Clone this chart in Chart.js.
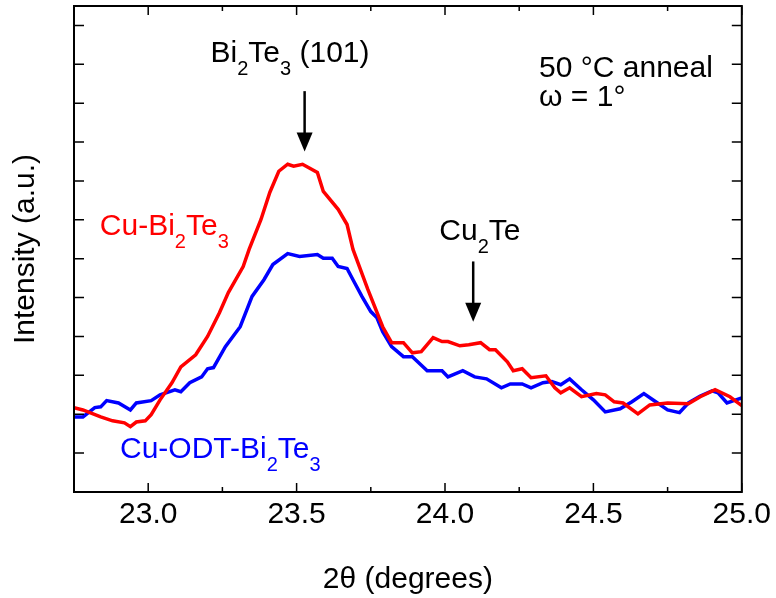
<!DOCTYPE html>
<html>
<head>
<meta charset="utf-8">
<script src="https://cdn.jsdelivr.net/npm/chart.js@4/dist/chart.umd.min.js"></script>
<style>
  html, body { margin: 0; padding: 0; background: #fff; }
  #wrap { width: 776px; height: 598px; }
</style>
</head>
<body>
<div id="wrap"><canvas id="xrd"></canvas></div>
<script>
// 2theta (deg) and intensity (a.u., in y-tick units)
var redX = [22.75, 22.78, 22.84, 22.88, 22.92, 22.94, 22.96, 22.99, 23.01, 23.04, 23.08, 23.11, 23.16, 23.20, 23.24, 23.27, 23.32, 23.34, 23.38, 23.41, 23.44, 23.47, 23.49, 23.52, 23.57, 23.59, 23.64, 23.67, 23.69, 23.74, 23.79, 23.82, 23.86, 23.89, 23.92, 23.96, 23.99, 24.01, 24.05, 24.08, 24.12, 24.15, 24.17, 24.21, 24.23, 24.26, 24.29, 24.34, 24.37, 24.39, 24.42, 24.46, 24.51, 24.54, 24.57, 24.60, 24.65, 24.69, 24.75, 24.82, 24.86, 24.91, 24.96, 25.0];
var redY = [2.17, 2.11, 1.93, 1.83, 1.78, 1.68, 1.80, 1.83, 1.99, 2.37, 2.81, 3.22, 3.53, 4.00, 4.61, 5.13, 5.80, 6.24, 7.01, 7.71, 8.25, 8.43, 8.38, 8.43, 8.22, 7.73, 7.27, 6.88, 6.24, 5.21, 4.25, 3.84, 3.84, 3.58, 3.61, 3.97, 3.87, 3.87, 3.76, 3.79, 3.84, 3.66, 3.66, 3.35, 3.12, 3.17, 2.94, 2.99, 2.68, 2.55, 2.68, 2.45, 2.53, 2.50, 2.32, 2.29, 2.01, 2.24, 2.29, 2.27, 2.45, 2.63, 2.45, 2.22];

var blueX = [22.75, 22.78, 22.82, 22.84, 22.86, 22.90, 22.94, 22.96, 23.01, 23.04, 23.09, 23.11, 23.14, 23.18, 23.20, 23.22, 23.26, 23.31, 23.35, 23.39, 23.42, 23.47, 23.51, 23.57, 23.59, 23.62, 23.64, 23.67, 23.69, 23.72, 23.75, 23.77, 23.79, 23.82, 23.86, 23.89, 23.94, 23.99, 24.01, 24.06, 24.10, 24.14, 24.19, 24.22, 24.26, 24.29, 24.33, 24.36, 24.39, 24.42, 24.46, 24.50, 24.54, 24.59, 24.63, 24.67, 24.71, 24.75, 24.79, 24.82, 24.86, 24.90, 24.92, 24.95, 24.98, 25.0];
var blueY = [1.93, 1.93, 2.17, 2.19, 2.35, 2.29, 2.11, 2.29, 2.35, 2.50, 2.63, 2.58, 2.81, 2.96, 3.17, 3.20, 3.74, 4.25, 5.03, 5.46, 5.85, 6.13, 6.06, 6.11, 6.01, 6.01, 5.80, 5.75, 5.46, 5.03, 4.64, 4.49, 4.12, 3.74, 3.48, 3.48, 3.12, 3.12, 2.96, 3.12, 2.96, 2.91, 2.68, 2.78, 2.78, 2.68, 2.81, 2.84, 2.76, 2.91, 2.63, 2.37, 2.06, 2.14, 2.32, 2.53, 2.32, 2.11, 2.04, 2.29, 2.47, 2.60, 2.55, 2.29, 2.37, 2.42];

var xTickMajor = [23.0, 23.5, 24.0, 24.5, 25.0];
var xTickMinor = [22.75, 23.25, 23.75, 24.25, 24.75];
var yTicks = [1, 2, 3, 4, 5, 6, 7, 8, 9, 10, 11, 12];

function pts(xs, ys) {
  var out = [];
  for (var i = 0; i < xs.length; i++) out.push({x: xs[i], y: ys[i]});
  return out;
}

var FONT = '"Liberation Sans", Arial, sans-serif';
var FS = 30;

// draws text with subscripts: parts = [[text, isSub], ...]
function richText(ctx, parts, x, y, size, color) {
  ctx.fillStyle = color;
  ctx.textAlign = 'left';
  ctx.textBaseline = 'alphabetic';
  var cx = x;
  for (var i = 0; i < parts.length; i++) {
    var sub = parts[i][1];
    ctx.font = (sub ? Math.round(size * 0.68) : size) + 'px ' + FONT;
    ctx.fillText(parts[i][0], cx, sub ? y + size * 0.45 : y);
    cx += ctx.measureText(parts[i][0]).width;
  }
}

function arrow(ctx, xs, ys, x, y1, y2) {
  var px = xs.getPixelForValue(x);
  var p1 = ys.getPixelForValue(y1);
  var p2 = ys.getPixelForValue(y2);
  ctx.strokeStyle = '#000';
  ctx.lineWidth = 2.5;
  ctx.beginPath();
  ctx.moveTo(px, p1);
  ctx.lineTo(px, p2 - 17);
  ctx.stroke();
  ctx.fillStyle = '#000';
  ctx.beginPath();
  ctx.moveTo(px - 8, p2 - 19);
  ctx.lineTo(px + 8, p2 - 19);
  ctx.lineTo(px, p2);
  ctx.closePath();
  ctx.fill();
}

var framePlugin = {
  id: 'frame',
  afterDraw: function(chart) {
    var ctx = chart.ctx;
    var a = chart.chartArea;
    var xs = chart.scales.x, ys = chart.scales.y;
    ctx.save();
    ctx.strokeStyle = '#000';
    ctx.lineWidth = 2;
    ctx.strokeRect(a.left, a.top, a.right - a.left, a.bottom - a.top);
    ctx.lineWidth = 1.5;
    ctx.beginPath();
    xTickMajor.forEach(function(v) {
      var p = xs.getPixelForValue(v);
      ctx.moveTo(p, a.bottom); ctx.lineTo(p, a.bottom - 9);
      ctx.moveTo(p, a.top); ctx.lineTo(p, a.top + 9);
    });
    xTickMinor.forEach(function(v) {
      var p = xs.getPixelForValue(v);
      ctx.moveTo(p, a.bottom); ctx.lineTo(p, a.bottom - 5);
      ctx.moveTo(p, a.top); ctx.lineTo(p, a.top + 5);
    });
    yTicks.forEach(function(v) {
      var p = ys.getPixelForValue(v);
      ctx.moveTo(a.left, p); ctx.lineTo(a.left + 10, p);
      ctx.moveTo(a.right, p); ctx.lineTo(a.right - 10, p);
    });
    ctx.stroke();

    // annotations
    richText(ctx, [['Bi', 0], ['2', 1], ['Te', 0], ['3', 1], [' (101)', 0]],
      xs.getPixelForValue(23.21), ys.getPixelForValue(11.06), FS, '#000');
    arrow(ctx, xs, ys, 23.527, 10.31, 8.76);
    richText(ctx, [['50 \u00B0C anneal', 0]], xs.getPixelForValue(24.317), ys.getPixelForValue(10.67), FS, '#000');
    richText(ctx, [['\u03C9 = 1\u00B0', 0]], xs.getPixelForValue(24.317), ys.getPixelForValue(9.92), FS, '#000');
    richText(ctx, [['Cu', 0], ['2', 1], ['Te', 0]], xs.getPixelForValue(23.981), ys.getPixelForValue(6.49), FS, '#000');
    arrow(ctx, xs, ys, 24.095, 5.93, 4.38);
    richText(ctx, [['Cu-Bi', 0], ['2', 1], ['Te', 0], ['3', 1]],
      xs.getPixelForValue(22.837), ys.getPixelForValue(6.62), FS, '#ff0000');
    richText(ctx, [['Cu-ODT-Bi', 0], ['2', 1], ['Te', 0], ['3', 1]],
      xs.getPixelForValue(22.905), ys.getPixelForValue(0.876), FS, '#0000ff');
    ctx.restore();
  }
};

new Chart(document.getElementById('xrd'), {
  type: 'scatter',
  data: {
    datasets: [
      { label: 'Cu-Bi2Te3', data: pts(redX, redY), showLine: true, borderColor: '#ff0000',
        borderWidth: 3.5, pointRadius: 0, tension: 0, fill: false },
      { label: 'Cu-ODT-Bi2Te3', data: pts(blueX, blueY), showLine: true, borderColor: '#0000ff',
        borderWidth: 3.5, pointRadius: 0, tension: 0, fill: false }
    ]
  },
  options: {
    responsive: true,
    maintainAspectRatio: false,
    animation: false,
    layout: { padding: { top: 6, right: 30, left: 0, bottom: 0 } },
    plugins: { legend: { display: false }, tooltip: { enabled: false } },
    scales: {
      x: {
        type: 'linear', min: 22.75, max: 25,
        afterFit: function(s) { s.height = 106; },
        afterBuildTicks: function(s) {
          s.ticks = xTickMajor.map(function(v) { return {value: v}; });
        },
        grid: { display: false, drawTicks: false },
        border: { display: false },
        ticks: {
          color: '#000', padding: 5, maxRotation: 0, autoSkip: false,
          font: { family: FONT, size: FS },
          callback: function(v) { return Number(v).toFixed(1); }
        },
        title: { display: true, text: '2\u03B8 (degrees)', color: '#000', padding: 0,
          font: { family: FONT, size: FS } }
      },
      y: {
        type: 'linear', min: 0, max: 12.5,
        afterFit: function(s) { s.width = 74; },
        grid: { display: false, drawTicks: false },
        border: { display: false },
        ticks: { display: false },
        title: { display: true, text: 'Intensity (a.u.)', color: '#000', padding: { top: 8, bottom: 0 },
          font: { family: FONT, size: FS } }
      }
    }
  },
  plugins: [framePlugin]
});
</script>
</body>
</html>
